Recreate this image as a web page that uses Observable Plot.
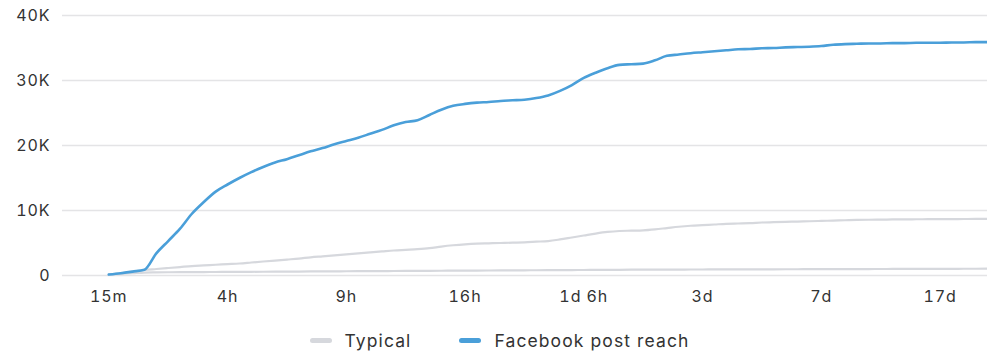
<!DOCTYPE html>
<html>
<head>
<meta charset="utf-8">
<script src="https://cdn.jsdelivr.net/npm/d3@7"></script>
<script src="https://cdn.jsdelivr.net/npm/@observablehq/plot@0.6"></script>
<style>
  html, body { margin: 0; padding: 0; background: #fff; }
  body { width: 987px; height: 353px; overflow: hidden; font-family: Inter, "Liberation Sans", sans-serif; }
  #legend { display: flex; justify-content: center; align-items: center; height: 35px; margin-top: 5px; font-size: 17.5px; letter-spacing: 1.1px; color: #333; padding-left: 12px; }
  .item { display: flex; align-items: center; margin: 0 24px; }
  .sw { width: 22px; height: 5px; border-radius: 3px; margin-right: 13px; }
</style>
</head>
<body>
<div id="chart"></div>
<div id="legend"></div>
<script>
// Tick labels at every 10th sample position
const tickPositions = [0, 10, 20, 30, 40, 50, 60, 70];
const tickLabels = ["15m", "4h", "9h", "16h", "1d 6h", "3d", "7d", "17d"];
const yTicks = [0, 10000, 20000, 30000, 40000];

const seriesNames = ["Typical", "Facebook post reach"];
const seriesColors = ["#d6d8dd", "#4a9fd9"];

// Facebook post reach (samples 0..74)
const reach = [150, 350, 600, 900, 3400, 5300, 7200, 9500, 11300, 12900,
  14000, 15000, 15900, 16700, 17400, 17900, 18500, 19100, 19600, 20200,
  20700, 21200, 21800, 22400, 23100, 23600, 23900, 24700, 25500, 26100,
  26400, 26600, 26700, 26850, 26950, 27050, 27300, 27700, 28400, 29300,
  30400, 31200, 31900, 32400, 32500, 32600, 33100, 33800, 34000, 34200,
  34350, 34500, 34650, 34800, 34850, 34950, 35000, 35100, 35150, 35200,
  35300, 35500, 35600, 35650, 35700, 35700, 35750, 35750, 35800, 35800,
  35800, 35850, 35850, 35900, 35900];

// Typical range, upper bound
const typicalHigh = [150, 350, 600, 850, 1000, 1150, 1300, 1450, 1550, 1650,
  1750, 1850, 2000, 2150, 2300, 2450, 2600, 2800, 2950, 3100,
  3250, 3400, 3550, 3700, 3850, 3950, 4050, 4200, 4450, 4650,
  4800, 4900, 4950, 5000, 5050, 5100, 5200, 5300, 5550, 5850,
  6150, 6450, 6700, 6850, 6900, 6950, 7100, 7300, 7500, 7650,
  7750, 7850, 7950, 8000, 8050, 8150, 8200, 8250, 8300, 8350,
  8400, 8450, 8500, 8550, 8580, 8600, 8620, 8640, 8650, 8660,
  8670, 8680, 8690, 8700, 8700];

// Typical range, lower bound
const typicalLow = [150, 250, 350, 450, 480, 500, 510, 520, 530, 540,
  550, 560, 570, 580, 590, 600, 610, 620, 630, 640,
  650, 660, 670, 680, 690, 700, 710, 720, 730, 740,
  750, 760, 770, 780, 790, 800, 810, 820, 830, 840,
  850, 860, 870, 880, 890, 900, 905, 910, 915, 920,
  925, 930, 935, 940, 945, 950, 955, 960, 965, 970,
  975, 980, 985, 990, 995, 1000, 1005, 1010, 1015, 1020,
  1025, 1030, 1035, 1040, 1045];

const rows = (arr) => arr.map((v, i) => ({i, v}));
const fmtY = d => d === 0 ? "0" : `${d / 1000}K`;
const fmtX = d => tickLabels[tickPositions.indexOf(d)];

const chart = Plot.plot({
  width: 987,
  height: 318,
  marginLeft: 62,
  marginRight: 0,
  marginTop: 15,
  marginBottom: 43,
  style: { fontFamily: "Inter, 'Liberation Sans', sans-serif", fontSize: "16px", color: "#333", background: "#fff" },
  x: { domain: [-3.9, 74], axis: null },
  y: { domain: [0, 40000], axis: null },
  marks: [
    Plot.gridY(yTicks, { stroke: "#e4e4e6", strokeOpacity: 1, strokeWidth: 1.5 }),
    Plot.line(rows(typicalLow), { x: "i", y: "v", stroke: seriesColors[0], strokeWidth: 2.2, curve: "monotone-x" }),
    Plot.line(rows(typicalHigh), { x: "i", y: "v", stroke: seriesColors[0], strokeWidth: 2.2, curve: "monotone-x" }),
    Plot.line(rows(reach), { x: "i", y: "v", stroke: seriesColors[1], strokeWidth: 2.6, curve: "monotone-x" }),
    Plot.axisY(yTicks, { tickSize: 0, tickPadding: 12, tickFormat: fmtY, fontSize: 16, fill: "#333", label: null }),
    Plot.axisX(tickPositions, { tickSize: 0, tickPadding: 15, tickFormat: fmtX, fontSize: 16, fill: "#333", label: null })
  ]
});
chart.style.letterSpacing = "0.9px";
document.getElementById("chart").appendChild(chart);

const legend = document.getElementById("legend");
seriesNames.forEach((name, k) => {
  const item = document.createElement("div");
  item.className = "item";
  const sw = document.createElement("span");
  sw.className = "sw";
  sw.style.background = seriesColors[k];
  const t = document.createElement("span");
  t.textContent = name;
  item.appendChild(sw);
  item.appendChild(t);
  legend.appendChild(item);
});
</script>
</body>
</html>
